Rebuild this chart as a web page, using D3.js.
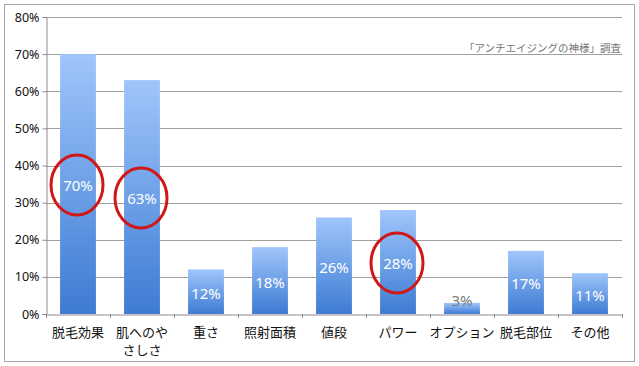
<!DOCTYPE html>
<html>
<head>
<meta charset="utf-8">
<script src="https://cdnjs.cloudflare.com/ajax/libs/d3/7.8.5/d3.min.js"></script>
<style>
body { margin: 0; background: #fff; }
text { font-family: "Noto Sans CJK JP", "Noto Sans", sans-serif; }
</style>
</head>
<body>
<script>
var categories = ["脱毛効果", "肌へのや\nさしさ", "重さ", "照射面積", "値段", "パワー", "オプション", "脱毛部位", "その他"];
var values = [70, 63, 12, 18, 26, 28, 3, 17, 11];
var circled = ["脱毛効果", "肌へのや\nさしさ", "パワー"];
var yTicks = [0, 10, 20, 30, 40, 50, 60, 70, 80];
var note = "「アンチエイジングの神様」調査";

var W = 639, H = 366;
var plotLeft = 46, plotRight = 622, plotTop = 17, plotBottom = 314;

var svg = d3.select("body").append("svg")
    .attr("width", W)
    .attr("height", H);

// グラデーション
var grad = svg.append("defs").append("linearGradient")
    .attr("id", "barGrad")
    .attr("x1", 0).attr("y1", 0).attr("x2", 0).attr("y2", 1);
grad.append("stop").attr("offset", "0%").attr("stop-color", "#a0c6fb");
grad.append("stop").attr("offset", "100%").attr("stop-color", "#3d7bd3");

// 外枠
svg.append("rect")
    .attr("x", 4.5).attr("y", 4.5)
    .attr("width", 630).attr("height", 357)
    .attr("fill", "#fff")
    .attr("stroke", "#a6a6a6")
    .attr("stroke-width", 1);

var x = d3.scaleBand()
    .domain(categories)
    .range([plotLeft, plotRight])
    .paddingInner(0.44)
    .paddingOuter(0.22);

var y = d3.scaleLinear()
    .domain([0, 80])
    .range([plotBottom, plotTop]);

// グリッド線
svg.append("g")
    .selectAll("line")
    .data(yTicks.filter(function(d) { return d > 0; }))
    .enter()
    .append("line")
    .attr("x1", plotLeft).attr("x2", plotRight)
    .attr("y1", function(d) { return Math.round(y(d)) + 0.5; })
    .attr("y2", function(d) { return Math.round(y(d)) + 0.5; })
    .attr("stroke", "#a0a0a0")
    .attr("stroke-width", 1);

// Y軸
var yAxis = svg.append("g")
    .attr("transform", "translate(" + (plotLeft + 0.5) + ",0)")
    .call(d3.axisLeft(y).tickValues(yTicks).tickSize(4).tickFormat(function(d) { return d + "%"; }));
yAxis.select(".domain").attr("stroke", "#8c8c8c");
yAxis.selectAll(".tick line").attr("stroke", "#8c8c8c");
yAxis.selectAll(".tick text")
    .attr("x", -7)
    .style("font-size", "12.5px")
    .style("font-family", "'Noto Sans', sans-serif")
    .attr("fill", "#111");

// X軸
var xAxis = svg.append("g")
    .attr("transform", "translate(0," + (plotBottom + 0.5) + ")")
    .call(d3.axisBottom(x).tickSize(0).tickFormat(""));
xAxis.select(".domain").attr("stroke", "#8c8c8c");

// 区切り目盛
svg.append("g")
    .selectAll("line")
    .data(d3.range(categories.length + 1))
    .enter()
    .append("line")
    .attr("x1", function(i) { return Math.round(plotLeft + i * x.step()) + 0.5; })
    .attr("x2", function(i) { return Math.round(plotLeft + i * x.step()) + 0.5; })
    .attr("y1", plotBottom)
    .attr("y2", plotBottom + 4)
    .attr("stroke", "#8c8c8c");

// 棒
svg.append("g")
    .selectAll("rect")
    .data(values)
    .enter()
    .append("rect")
    .attr("x", function(d, i) { return x(categories[i]); })
    .attr("y", function(d) { return y(d); })
    .attr("width", x.bandwidth())
    .attr("height", function(d) { return plotBottom - y(d); })
    .attr("fill", "url(#barGrad)");

// 値ラベル
svg.append("g")
    .selectAll("text")
    .data(values)
    .enter()
    .append("text")
    .attr("x", function(d, i) { return x(categories[i]) + x.bandwidth() / 2; })
    .attr("y", function(d) { return d < 5 ? y(d) + 3 : (y(d) + plotBottom) / 2 + 7; })
    .attr("text-anchor", "middle")
    .attr("fill", function(d) { return d < 5 ? "#7a7a7a" : "#fff"; })
    .style("font-size", "15px")
    .style("font-family", "'Noto Sans', sans-serif")
    .text(function(d) { return d + "%"; });

// 赤丸
svg.append("g")
    .selectAll("ellipse")
    .data(values.filter(function(d, i) { return circled.indexOf(categories[i]) >= 0; }))
    .enter()
    .append("ellipse")
    .attr("cx", function(d) { var i = values.indexOf(d); return x(categories[i]) + x.bandwidth() / 2 - 1; })
    .attr("cy", function(d) { return (y(d) + plotBottom) / 2 + 1; })
    .attr("rx", 26)
    .attr("ry", 30)
    .attr("fill", "none")
    .attr("stroke", "#d01818")
    .attr("stroke-width", 3);

// カテゴリラベル（改行ごとに別の text）
var labelLines = [];
categories.forEach(function(c) {
    c.split("\n").forEach(function(l, k) {
        labelLines.push({ cat: c, text: l, row: k });
    });
});
svg.append("g")
    .selectAll("text")
    .data(labelLines)
    .enter()
    .append("text")
    .attr("x", function(d) { return x(d.cat) + x.bandwidth() / 2; })
    .attr("y", function(d) { return 337 + d.row * 18; })
    .attr("text-anchor", "middle")
    .attr("fill", "#111")
    .style("font-size", "13px")
    .text(function(d) { return d.text; });

// 出典
svg.append("text")
    .attr("x", plotRight - 1)
    .attr("y", 52)
    .attr("text-anchor", "end")
    .attr("fill", "#777")
    .style("font-size", "10.5px")
    .text(note);
</script>
</body>
</html>
